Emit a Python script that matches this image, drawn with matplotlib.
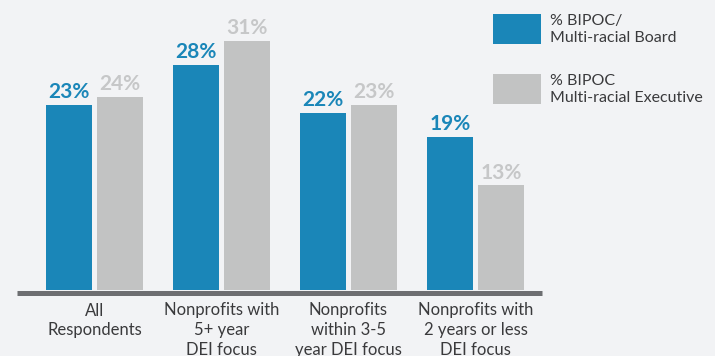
import numpy as np
import matplotlib
matplotlib.use("Agg")
import matplotlib.pyplot as plt
from matplotlib.patches import Rectangle

plt.rcParams["font.family"] = ["Lato", "DejaVu Sans"]

categories = [
    "All\nRespondents",
    "Nonprofits with\n5+ year\nDEI focus",
    "Nonprofits\nwithin 3-5\nyear DEI focus",
    "Nonprofits with\n2 years or less\nDEI focus",
]
board_pct = [23, 28, 22, 19]
executive_pct = [24, 31, 23, 13]
series_names = ["% BIPOC/\nMulti-racial Board", "% BIPOC\nMulti-racial Executive"]

BLUE = "#1a86b8"
GRAY = "#c2c3c3"
GRAY_TEXT = "#c6c7c8"
TEXT = "#3a3a3c"
BG = "#f2f3f5"
AXIS = "#6d6e71"

W, H = 715, 356
fig = plt.figure(figsize=(W / 100, H / 100), dpi=100, facecolor=BG)
ax = fig.add_axes([17 / W, (H - 290) / H, 525 / W, 290 / H])
ax.set_facecolor(BG)

x = np.arange(len(categories))
width = 46 / 127
offset = 25.5 / 127
b1 = ax.bar(x - offset, board_pct, width, color=BLUE)
b2 = ax.bar(x + offset, executive_pct, width, color=GRAY)

ax.set_xlim(-0.610, 3.524)
ax.set_ylim(0, 290 / 8.04)

for rects, vals, col in ((b1, board_pct, BLUE), (b2, executive_pct, GRAY_TEXT)):
    for r, v in zip(rects, vals):
        ax.annotate(f"{v}%", (r.get_x() + r.get_width() / 2, v),
                    xytext=(0, 5), textcoords="offset points",
                    ha="center", va="baseline", fontsize=15,
                    fontweight="bold", color=col)

# thick baseline under the bars
ax.axhline(-2.5 / 8.04, color=AXIS, lw=3.6, clip_on=False,
           solid_capstyle="butt")

for s in ax.spines.values():
    s.set_visible(False)
ax.set_yticks([])
ax.set_xticks(x)
ax.set_xticklabels(categories, fontsize=12, color=TEXT, linespacing=1.3)
ax.tick_params(axis="x", length=0, pad=9)

# legend drawn at the right edge
for (top, name, col) in ((14, series_names[0], BLUE), (74, series_names[1], GRAY)):
    fig.add_artist(Rectangle((493 / W, (H - top - 30) / H), 48 / W, 30 / H,
                             transform=fig.transFigure, color=col, lw=0))
    fig.text(550 / W, (H - top - 15.5) / H, name, fontsize=11.5, color=TEXT,
             ha="left", va="center", linespacing=1.35)

fig.savefig("out.png", dpi=100, facecolor=BG)
